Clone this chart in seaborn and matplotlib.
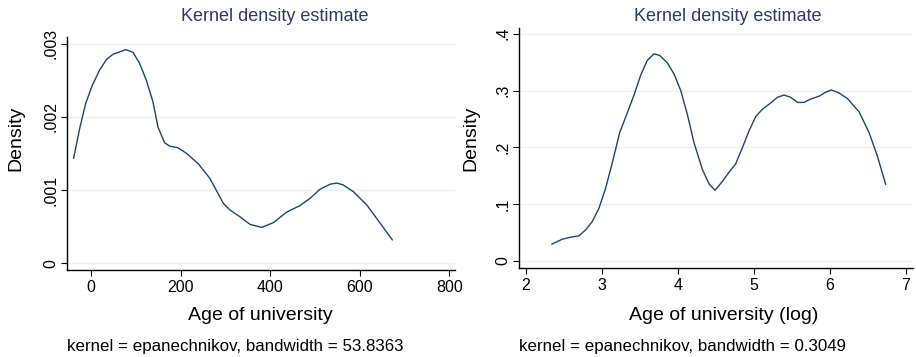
import numpy as np
import pandas as pd
import seaborn as sns
import matplotlib.pyplot as plt

# kernel density curves (Stata kdensity output)
age_x = [-39.6, -26, -12.7, 2.2, 18.7, 33.6, 48.5, 63.4, 76.9, 93.3, 108, 123,
         138, 149, 164, 175, 194, 213, 239, 265, 295, 310, 332, 355, 381, 407,
         437, 466, 489, 511, 534, 549, 563, 586, 616, 646, 673]
age_y = [1.432, 1.84, 2.18, 2.43, 2.64, 2.78, 2.855, 2.886, 2.918, 2.88, 2.73,
         2.50, 2.20, 1.86, 1.645, 1.60, 1.577, 1.50, 1.36, 1.16, 0.82, 0.727,
         0.636, 0.53, 0.49, 0.555, 0.70, 0.786, 0.886, 1.01, 1.08, 1.095, 1.07,
         0.977, 0.795, 0.545, 0.318]
age_y = [v / 1000 for v in age_y]

log_x = [2.342, 2.482, 2.592, 2.70, 2.79, 2.877, 2.965, 3.053, 3.14, 3.237,
         3.338, 3.425, 3.513, 3.60, 3.688, 3.763, 3.864, 3.952, 4.04, 4.127,
         4.215, 4.325, 4.412, 4.491, 4.588, 4.675, 4.763, 4.851, 4.939, 5.026,
         5.114, 5.224, 5.311, 5.399, 5.487, 5.575, 5.662, 5.75, 5.86, 5.947,
         6.022, 6.123, 6.232, 6.386, 6.518, 6.627, 6.737]
log_y = [0.0295, 0.0383, 0.0419, 0.0442, 0.0549, 0.0696, 0.0932, 0.1286, 0.173,
         0.226, 0.261, 0.292, 0.327, 0.353, 0.3646, 0.3617, 0.3487, 0.329, 0.300,
         0.258, 0.208, 0.161, 0.1357, 0.1245, 0.140, 0.156, 0.171, 0.1994, 0.229,
         0.254, 0.267, 0.278, 0.288, 0.292, 0.288, 0.279, 0.279, 0.285, 0.290,
         0.297, 0.301, 0.2956, 0.286, 0.2625, 0.226, 0.1847, 0.1345]

left_xticks = [0, 200, 400, 600, 800]
left_yticks = [0, 0.001, 0.002, 0.003]
left_ylabels = ["0", ".001", ".002", ".003"]
right_xticks = [2, 3, 4, 5, 6, 7]
right_yticks = [0, 0.1, 0.2, 0.3, 0.4]
right_ylabels = ["0", ".1", ".2", ".3", ".4"]

sns.set_style("white")
plt.rcParams["font.family"] = ["Liberation Sans", "DejaVu Sans"]

line_color = "#1a476f"
title_color = "#2a3a6a"
grid_color = "#eaf2f3"

W, H = 916, 357
fig = plt.figure(figsize=(W / 100, H / 100), dpi=100)


def px_axes(x0, y0, x1, y1):
    return fig.add_axes([x0 / W, 1 - y1 / H, (x1 - x0) / W, (y1 - y0) / H])


def px_text(x, y, s, **kw):
    fig.text(x / W, 1 - y / H, s, ha="center", va="center", **kw)


def style(ax, xt, yt, ylab, xlim, ylim):
    ax.set_xlim(*xlim)
    ax.set_ylim(*ylim)
    ax.set_xticks(xt)
    ax.set_xticklabels([str(t) for t in xt])
    ax.set_yticks(yt)
    ax.set_yticklabels(ylab, rotation=90, va="center")
    for t in yt:
        ax.axhline(t, color=grid_color, lw=1, zorder=0)
    for s in ["top", "right"]:
        ax.spines[s].set_visible(False)
    for s in ["left", "bottom"]:
        ax.spines[s].set_color("black")
        ax.spines[s].set_linewidth(1)
    ax.tick_params(axis="both", direction="out", length=4, width=0.8,
                   color="black", labelsize=11.5, labelcolor="black",
                   bottom=True, left=True)
    ax.tick_params(axis="y", pad=2)
    ax.tick_params(axis="x", pad=3)
    ax.set_xlabel("")
    ax.set_ylabel("")
    ax.grid(False)


ax1 = px_axes(66.7, 37, 455, 270)
df1 = pd.DataFrame({"age": age_x, "density": age_y})
sns.lineplot(data=df1, x="age", y="density", ax=ax1, color=line_color, lw=1)
style(ax1, left_xticks, left_yticks, left_ylabels,
      (-55, 813), (-0.000092, 0.00309))

ax2 = px_axes(519, 28, 913, 268.3)
df2 = pd.DataFrame({"logage": log_x, "density": log_y})
sns.lineplot(data=df2, x="logage", y="density", ax=ax2, color=line_color, lw=1)
style(ax2, right_xticks, right_yticks, right_ylabels,
      (1.912, 7.096), (-0.0129, 0.41))

# titles, axis titles and notes, placed like Stata's graph combine
px_text(275, 16.7, "Kernel density estimate", fontsize=13, color=title_color)
px_text(728, 16.7, "Kernel density estimate", fontsize=13, color=title_color)
px_text(260, 315, "Age of university", fontsize=14, color="black")
px_text(723.5, 315, "Age of university (log)", fontsize=14, color="black")
px_text(16, 138, "Density", fontsize=14, color="black", rotation=90)
px_text(471, 138, "Density", fontsize=14, color="black", rotation=90)
px_text(235.7, 346.7, "kernel = epanechnikov, bandwidth = 53.8363",
        fontsize=12.2, color="black")
px_text(682.7, 346.7, "kernel = epanechnikov, bandwidth = 0.3049",
        fontsize=12.2, color="black")

fig.savefig("out.png", dpi=100)
